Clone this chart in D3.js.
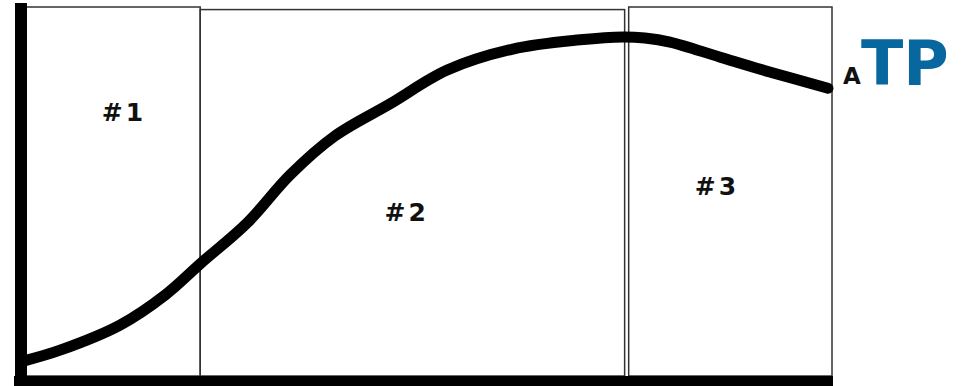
<!DOCTYPE html>
<html><head><meta charset="utf-8">
<script src="https://cdn.jsdelivr.net/npm/d3@7"></script>
<style>body{margin:0;background:#fff}svg{display:block}</style>
</head><body>
<svg id="c" width="965" height="386"></svg>
<script>
// Phase labels and boundaries (x in time units 0..100)
const phaseLabels = ["#1", "#2", "#3"];
const phaseStart = [0, 22, 74.9];
const phaseEnd = [22, 74.4, 100];
const phaseTop = [100, 99.3, 100];
const labelX = [12.4, 47.3, 85.6];
const labelY = [71, 44, 51];
// Curve samples
const curveX = [0.6, 4.7, 12.1, 17.7, 22.0, 27.8, 33.1, 38.6, 45.4, 52.5, 60.6, 68.9, 74.2, 76.9, 80.0, 86.2, 92.3, 99.5];
const curveY = [4.3, 7.0, 13.8, 22.0, 30.4, 41.5, 54.5, 65.0, 73.7, 82.9, 88.6, 91.1, 91.9, 91.6, 90.5, 86.4, 82.4, 78.0];

const svg = d3.select("#c");
const x = d3.scaleLinear().domain([0, 100]).range([22, 832]);
const y = d3.scaleLinear().domain([0, 100]).range([376, 7]);

// phase boxes
phaseLabels.forEach((lab, i) => {
  svg.append("rect")
    .attr("x", x(phaseStart[i])).attr("y", y(phaseTop[i]))
    .attr("width", x(phaseEnd[i]) - x(phaseStart[i]))
    .attr("height", y(0) - y(phaseTop[i]))
    .attr("fill", "none").attr("stroke", "#333").attr("stroke-width", 1.5);
  svg.append("text")
    .attr("x", x(labelX[i]) + 1.5)
    .attr("y", y(labelY[i]))
    .attr("text-anchor", "middle").attr("dominant-baseline", "middle")
    .attr("font-family", "DejaVu Sans").attr("font-weight", "bold")
    .attr("letter-spacing", 3)
    .attr("font-size", 25).attr("fill", "#111").text(lab);
});

// curve
const pts = curveX.map((v, i) => [v, curveY[i]]);
svg.append("path")
  .attr("d", d3.line().x(d => x(d[0])).y(d => y(d[1])).curve(d3.curveCatmullRom.alpha(0.5))(pts))
  .attr("fill", "none").attr("stroke", "#000").attr("stroke-width", 11)
  .attr("stroke-linecap", "round").attr("stroke-linejoin", "round");

// axes (thick bars)
svg.append("line").attr("x1", 21).attr("x2", 21).attr("y1", 3).attr("y2", 386)
  .attr("stroke", "#000").attr("stroke-width", 12);
svg.append("line").attr("x1", 14).attr("x2", 833).attr("y1", 381).attr("y2", 381)
  .attr("stroke", "#000").attr("stroke-width", 10);

// ATP label
svg.append("text").attr("x", 843).attr("y", 84).attr("font-family", "DejaVu Sans").attr("font-weight", "bold")
  .attr("font-size", 23).attr("fill", "#111").text("A");
svg.append("text").attr("x", 861).attr("y", 85).attr("font-family", "DejaVu Sans").attr("font-weight", "bold")
  .attr("font-size", 62).attr("fill", "#07679e").text("TP");
</script>
</body></html>
